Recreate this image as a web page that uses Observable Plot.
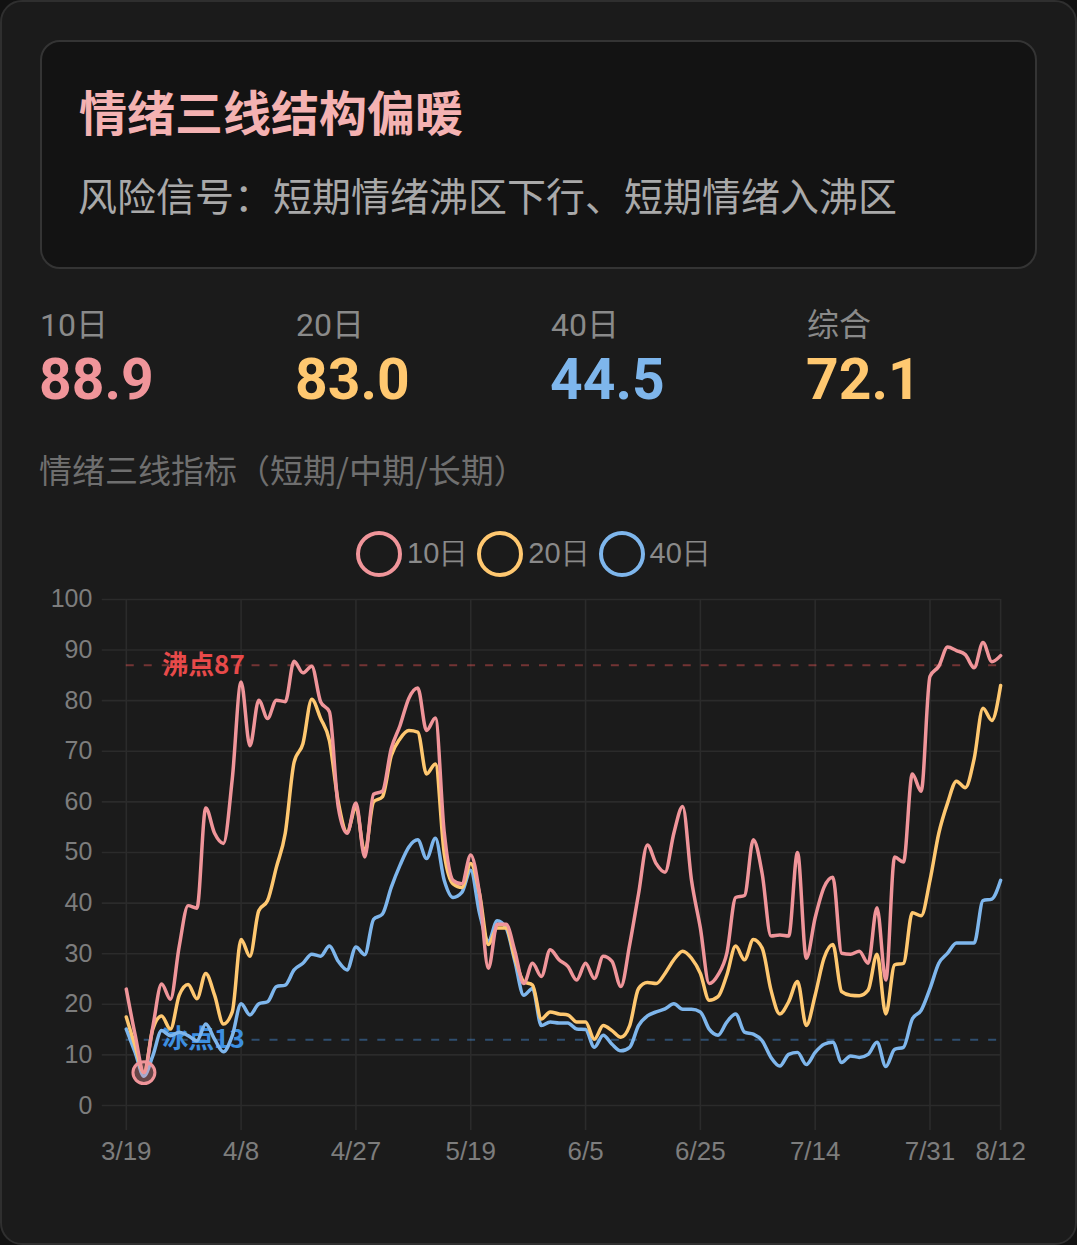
<!DOCTYPE html>
<html><head><meta charset="utf-8">
<script src="https://cdn.jsdelivr.net/npm/d3@7"></script>
<script src="https://cdn.jsdelivr.net/npm/@observablehq/plot@0.6"></script>
<style>
html,body{margin:0;padding:0;background:#121212;}
#card{position:relative;width:1077px;height:1245px;box-sizing:border-box;border:2px solid #2f2f2f;border-radius:22px;background:#1b1b1b;overflow:hidden;font-family:"Noto Sans","Noto Sans CJK SC",sans-serif;}
#head{position:absolute;left:38px;top:38px;width:997px;height:229px;box-sizing:border-box;border:2px solid #343434;border-radius:20px;background:#131313;}
#title{position:absolute;left:37px;top:44px;font-size:48px;line-height:1;font-weight:700;color:#f4b2b2;font-family:"Noto Sans CJK SC",sans-serif;white-space:nowrap;}
#sub{position:absolute;left:36px;top:133px;font-size:39px;line-height:1;color:#a9a9a9;font-family:"Noto Sans CJK SC",sans-serif;white-space:nowrap;}
.lab{position:absolute;top:307px;font-family:Roboto,"Noto Sans CJK SC",sans-serif;font-size:32px;line-height:32px;color:#8a8a8a;white-space:nowrap;}
.val{position:absolute;top:349px;font-family:Roboto,sans-serif;font-size:57px;line-height:57px;font-weight:700;white-space:nowrap;}
#sec{position:absolute;left:37px;top:451px;font-size:33px;line-height:1;color:#6f6f6f;font-family:"Noto Sans CJK SC",sans-serif;white-space:nowrap;}
#legend{position:absolute;left:354px;top:529px;display:flex;align-items:center;height:46px;}
#legend .item{display:flex;align-items:center;margin-right:9px;}
#legend .sw{width:46px;height:46px;box-sizing:border-box;border:4px solid;border-radius:50%;}
#legend .tx{font-family:"Liberation Sans",Arial,sans-serif;font-size:29px;color:#8a8a8a;margin-left:5px;}
#chart{position:absolute;left:-2px;top:578px;}
</style></head>
<body>
<div id="card">
  <div id="head">
    <div id="title">情绪三线结构偏暖</div>
    <div id="sub">风险信号：短期情绪沸区下行、短期情绪入沸区</div>
  </div>
  <div id="stats"></div>
  <div id="sec">情绪三线指标（短期/中期/长期）</div>
  <div id="legend"></div>
  <div id="chart"></div>
</div>
<script>
// ---- data ----
const seriesNames = ["10日", "20日", "40日"];
const seriesColors = ["#f0959a", "#ffc870", "#7eb6ec"];

const xTickIdx = [0, 13, 26, 39, 52, 65, 78, 91, 99];
const xTickLabels = ["3/19", "4/8", "4/27", "5/19", "6/5", "6/25", "7/14", "7/31", "8/12"];
const yTicks = [0, 10, 20, 30, 40, 50, 60, 70, 80, 90, 100];

const d10 = [23, 14, 6.5, 15.5, 24, 21, 31.5, 39.5, 39, 58.8,
  53.8, 51.8, 64.5, 83.7, 71.1, 80.1, 76.5, 80.1, 79.8, 87.8,
  85.5, 86.8, 79.8, 77.8, 59, 53.8, 59.8, 49.1, 61.5, 62.1,
  70.5, 75.1, 80.5, 82.5, 74.1, 76.6, 54, 44.5, 43.8, 49.5,
  41.8, 27.1, 35.8, 35.8, 30.5, 24.1, 28.1, 25.5, 30.8, 28.8,
  27.5, 24.8, 28.1, 25.1, 29.5, 28.5, 23.5, 31.8, 41.8, 51.5,
  47.8, 46.1, 53.8, 59.1, 44.5, 35.1, 24.1, 25.8, 30.1, 41.1,
  41.5, 52.5, 45.8, 33.5, 33.7, 33.5, 50, 29.1, 37.1, 43.1,
  45.1, 30.1, 29.9, 30.5, 28.1, 39.1, 24.8, 49.1, 48.1, 65.5,
  62.1, 84.8, 86.8, 90.6, 89.9, 89.1, 86.5, 91.5, 87.7, 88.9];

const d20 = [17.5, 11.8, 6.5, 15.1, 17.7, 15.1, 21.8, 23.9, 21.1, 26.1,
  21.8, 16.1, 18.5, 32.8, 29.5, 38.5, 40.5, 47.1, 53.8, 67.8,
  71.5, 80.3, 76.5, 72.1, 60, 54, 59, 50, 60, 61,
  69.1, 72.5, 74.1, 73.8, 65.5, 67.5, 49.8, 43.8, 43.1, 47.8,
  41.8, 31.8, 35.1, 35.1, 29.1, 24.5, 23.8, 17.1, 18.5, 18.1,
  17.9, 16.5, 16.5, 13.1, 15.8, 14.8, 13.5, 15.8, 23.1, 24.3,
  24.1, 26.1, 28.8, 30.5, 29.1, 26.1, 20.8, 21.5, 25.8, 31.5,
  28.8, 32.8, 31.1, 22.8, 18.1, 20.5, 24.5, 15.8, 21.8, 29.1,
  31.8, 22.5, 21.8, 21.7, 22.8, 29.9, 18.1, 27.8, 28.1, 38.1,
  37.5, 44.5, 53.8, 59.8, 64.1, 62.8, 68.5, 78.5, 76.1, 83.0];

const d40 = [15.1, 10.5, 5.8, 9.8, 14.8, 13.8, 14.5, 13.8, 12.8, 16.1,
  13.1, 10.6, 13.8, 20.1, 17.9, 20.1, 20.5, 23.5, 23.8, 26.8,
  28.1, 29.9, 29.5, 31.5, 28.5, 26.8, 31.3, 29.8, 36.8, 37.8,
  43.1, 47.5, 51.1, 52.5, 48.8, 52.8, 44.5, 41.1, 42.1, 46.5,
  38, 32.5, 36.5, 35.1, 28.5, 21.8, 23.1, 15.8, 16.5, 16.3,
  16.3, 15.1, 15, 11.5, 13.9, 12.1, 10.8, 11.5, 15.8, 17.7,
  18.5, 19.1, 20.1, 19, 19, 18.5, 15.1, 13.9, 16.5, 18.1,
  14.5, 14.1, 12.8, 9.5, 7.8, 10.1, 10.5, 8.1, 10.5, 12.1,
  12.5, 8.5, 9.8, 9.5, 10.1, 12.5, 7.7, 11.1, 11.5, 17.1,
  18.8, 23.1, 28.1, 30.1, 32.1, 32.1, 32.1, 40.5, 40.8, 44.5];

const statLabels = ["10日", "20日", "40日", "综合"];
const statValues = ["88.9", "83.0", "44.5", "72.1"];
const statColors = ["#f0959a", "#ffc870", "#7eb6ec", "#ffc870"];

const refNames = ["沸点87", "冰点13"];
const refValues = [87, 13];
const refLineColors = ["#e05555", "#4a8fd8"];
const refTextColors = ["#e84a4a", "#3d8fe0"];

const highlightIdx = 2; // lowest point of 10日

// ---- stats ----
const statsEl = document.getElementById("stats");
const statLeft = [38, 294, 549, 805];
statLabels.forEach((l, k) => {
  const a = document.createElement("div");
  a.className = "lab";
  a.style.left = statLeft[k] + "px";
  a.textContent = l;
  statsEl.appendChild(a);
  const b = document.createElement("div");
  b.className = "val";
  b.style.left = (statLeft[k] - 1) + "px";
  b.style.color = statColors[k];
  b.textContent = statValues[k];
  statsEl.appendChild(b);
});

// ---- legend ----
const legEl = document.getElementById("legend");
seriesNames.forEach((n, k) => {
  const it = document.createElement("div");
  it.className = "item";
  it.innerHTML = `<div class="sw" style="border-color:${seriesColors[k]}"></div><div class="tx">${n}</div>`;
  legEl.appendChild(it);
});

// ---- chart ----
const allSeries = [d10, d20, d40];
const rows = [];
allSeries.forEach((arr, s) => arr.forEach((v, i) => rows.push({i, v, name: seriesNames[s]})));
const refs = refNames.map((n, k) => ({name: n, value: refValues[k], lc: refLineColors[k], tc: refTextColors[k]}));
const gridColor = "#2b2b2b";

const lineMarks = [2, 1, 0].map(s => Plot.line(rows.filter(r => r.name === seriesNames[s]), {
  x: "i", y: "v", stroke: seriesColors[s], strokeWidth: 3.5, curve: "monotone-x"
}));

const chart = Plot.plot({
  width: 1077, height: 600,
  marginLeft: 126, marginRight: 75, marginTop: 19, marginBottom: 74,
  style: {background: "transparent", color: "#7d7d7d", fontFamily: "'Liberation Sans', Arial, sans-serif", fontSize: "25px", overflow: "visible"},
  x: {domain: [0, 99], label: null},
  y: {domain: [0, 100], label: null},
  marks: [
    Plot.ruleY(yTicks, {stroke: gridColor, strokeWidth: 1.6, insetLeft: -24}),
    Plot.ruleX(xTickIdx, {stroke: gridColor, strokeWidth: 1.6, insetBottom: -25}),
    Plot.axisY(yTicks, {tickSize: 0, tickPadding: 34, fontSize: 25, fill: "#7d7d7d", label: null}),
    Plot.axisX(xTickIdx, {tickSize: 0, tickPadding: 36, fontSize: 26, fill: "#7d7d7d", label: null,
      tickFormat: d => xTickLabels[xTickIdx.indexOf(d)]}),
    Plot.ruleY(refs, {y: "value", stroke: "lc", strokeOpacity: 0.45, strokeWidth: 2, strokeDasharray: "8,10"}),
    Plot.text(refs, {y: "value", text: "name", fill: "tc", frameAnchor: "left", textAnchor: "start", dx: 36,
      fontSize: 26, fontWeight: "bold", fontFamily: "'Noto Sans CJK SC', sans-serif"}),
    ...lineMarks,
    Plot.dot([{i: highlightIdx, v: d10[highlightIdx]}], {x: "i", y: "v", r: 11, stroke: seriesColors[0], strokeWidth: 3, fill: seriesColors[0], fillOpacity: 0.35})
  ]
});
document.getElementById("chart").appendChild(chart);
</script>
</body></html>
